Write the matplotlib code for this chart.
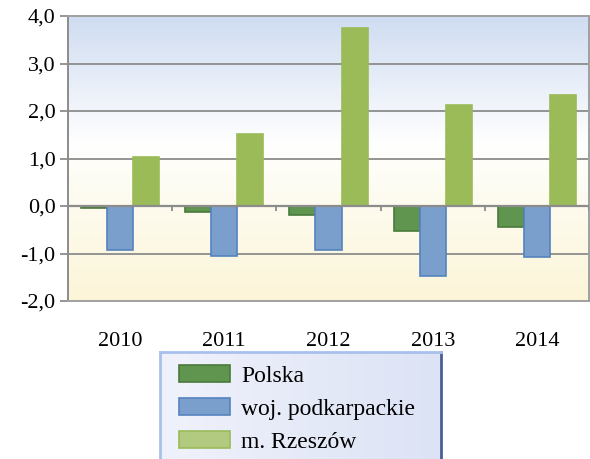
"""Bar chart: Polska / woj. podkarpackie / m. Rzeszów, 2010-2014."""

import matplotlib

matplotlib.use("Agg")
import matplotlib.pyplot as plt
import numpy as np
from matplotlib.colors import LinearSegmentedColormap
from matplotlib.patches import Patch

years = ["2010", "2011", "2012", "2013", "2014"]
polska = [-0.05, -0.12, -0.19, -0.53, -0.44]
podkarpackie = [-0.93, -1.05, -0.93, -1.47, -1.07]
rzeszow = [1.03, 1.52, 3.75, 2.13, 2.34]
series_names = ["Polska", "woj. podkarpackie", "m. Rzeszów"]

FACE = ["#5f954f", "#7a9fcc", "#9bbb59"]
EDGE = ["#4a7a3c", "#5583bf", "#9bbb59"]
LEGEND_FACE = ["#5f954f", "#7a9fcc", "#b1ca80"]
LEGEND_EDGE = ["#4a7a3c", "#5583bf", "#9bbb59"]

plt.rcParams["font.family"] = ["Liberation Serif", "DejaVu Serif"]

fig = plt.figure(figsize=(5.9, 4.59), dpi=100)
ax = fig.add_axes([68 / 590, 1 - 301 / 459, 521 / 590, 285 / 459])

ymin, ymax = -2.0, 4.0
n = len(years)
ax.set_xlim(0, n)
ax.set_ylim(ymin, ymax)

# background gradient: light blue on top, white in the middle, cream at bottom
cmap = LinearSegmentedColormap.from_list(
    "bg", [(0.0, "#fcf5d8"), (0.45, "#fefdf6"), (0.55, "#ffffff"), (1.0, "#cfdcf1")]
)
grad = np.linspace(0, 1, 256).reshape(-1, 1)
ax.imshow(grad, cmap=cmap, origin="lower", aspect="auto",
          extent=[0, n, ymin, ymax], zorder=0)

for y in np.arange(-1.0, 4.0, 1.0):
    ax.axhline(y, color="#8c8c8c", linewidth=1.3, zorder=1)

x = np.arange(n) + 0.5
width = 0.25
for i, values in enumerate([polska, podkarpackie, rzeszow]):
    ax.bar(x + (i - 1) * width, values, width, color=FACE[i], edgecolor=EDGE[i],
           linewidth=1.2, zorder=2)

ax.axhline(0, color="#8c8c8c", linewidth=1.6, zorder=3)
ax.vlines(np.arange(n + 1), -0.11, 0, color="#8c8c8c", linewidth=1.3, zorder=3)

for side in ["left", "bottom", "right", "top"]:
    ax.spines[side].set_color("#a0a0a0")
    ax.spines[side].set_linewidth(1.4)
ax.spines["left"].set_color("#8c8c8c")

yticks = np.arange(-2, 4.1, 1.0)
ax.set_yticks(yticks)
ax.set_yticklabels([f"{v:.1f}".replace(".", ",") for v in yticks], fontsize=16)
ax.tick_params(axis="y", length=6, width=1.3, color="#8c8c8c", pad=3)
ax.set_xticks(x)
ax.set_xticklabels(years, fontsize=16)
ax.tick_params(axis="x", length=0, pad=22)

# legend panel
lax = fig.add_axes([160 / 590, -0.02, 281 / 590, 107 / 459 + 0.02])
lgrad = np.linspace(0, 1, 256).reshape(1, -1)
lcmap = LinearSegmentedColormap.from_list("lg", ["#f0f2fb", "#dce3f5"])
lax.imshow(lgrad, cmap=lcmap, aspect="auto", extent=[0, 1, 0, 1])
lax.set_xticks([])
lax.set_yticks([])
for side in ["left", "top"]:
    lax.spines[side].set_color("#a9c0ec")
    lax.spines[side].set_linewidth(2)
lax.spines["right"].set_color("#4a5d96")
lax.spines["right"].set_linewidth(2)
lax.spines["bottom"].set_visible(False)

handles = [Patch(facecolor=LEGEND_FACE[i], edgecolor=LEGEND_EDGE[i], linewidth=1.2)
           for i in range(3)]
lax.legend(handles, series_names, loc="upper left",
           bbox_to_anchor=(179 / 590, 1 - 365 / 459), bbox_transform=fig.transFigure,
           frameon=False, fontsize=17, handlelength=2.15, handleheight=0.75,
           handletextpad=0.47, labelspacing=0.47, borderaxespad=0, borderpad=0)

fig.savefig("out.png", dpi=100)
